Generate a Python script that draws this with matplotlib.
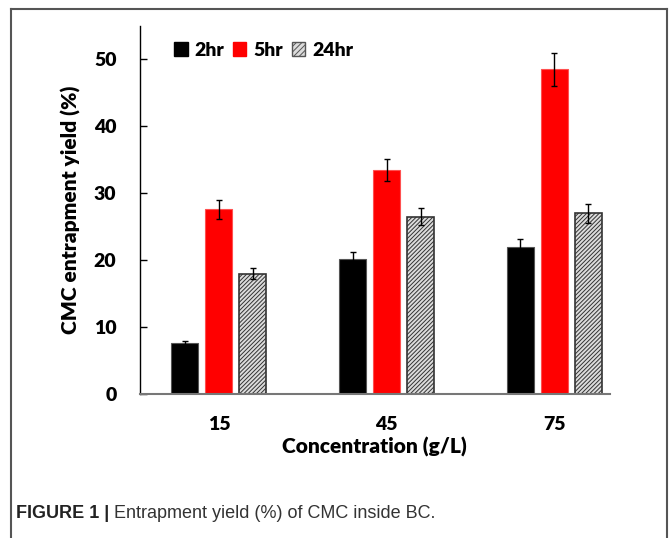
import numpy as np
import matplotlib.pyplot as plt
from matplotlib.patches import Patch
from matplotlib.lines import Line2D

# dados
concentracoes = ['15', '45', '75']
series = ['2hr', '5hr', '24hr']
y_2hr = [7.6, 20.2, 21.9]
y_5hr = [27.6, 33.5, 48.5]
y_24hr = [18.0, 26.5, 27.0]
err_2hr = [0.3, 1.0, 1.2]
err_5hr = [1.4, 1.6, 2.5]
err_24hr = [0.8, 1.3, 1.4]

plt.rcParams['font.family'] = ['Lato', 'DejaVu Sans']
plt.rcParams['hatch.linewidth'] = 0.7

fig = plt.figure(figsize=(6.7, 5.38), dpi=100)
ax = fig.add_axes([0.209, 0.2677, 0.701, 0.684])

x = np.arange(len(concentracoes))
w = 0.161
step = 0.203
ek = dict(ecolor='black', elinewidth=1.0, capsize=2.5, capthick=1.0)

ax.bar(x - step, y_2hr, w, color='black', edgecolor='#555555', linewidth=0.8,
       yerr=err_2hr, error_kw=ek, label=series[0])
ax.bar(x, y_5hr, w, color='#ff0000', edgecolor='#ff5050', linewidth=0.8,
       yerr=err_5hr, error_kw=ek, label=series[1])
ax.bar(x + step, y_24hr, w, color='#dcdcdc', edgecolor='#333333', linewidth=1.2,
       hatch='////////', yerr=err_24hr, error_kw=ek, label=series[2])

ax.set_xlim(-0.47, 2.33)
ax.set_ylim(0, 55)
ax.set_yticks([0, 10, 20, 30, 40, 50])
ax.set_xticks(x)
ax.set_xticklabels(concentracoes)

for s in ['top', 'right']:
    ax.spines[s].set_visible(False)
ax.spines['left'].set_color('black')
ax.spines['left'].set_linewidth(1.0)
ax.spines['bottom'].set_color('#777777')
ax.spines['bottom'].set_linewidth(1.5)

ax.tick_params(axis='y', direction='in', length=5, width=1, pad=17,
               labelsize=14)
ax.tick_params(axis='x', length=0, pad=16, labelsize=14)
for lb in ax.get_xticklabels() + ax.get_yticklabels():
    lb.set_fontweight('heavy')

ax.set_ylabel('CMC entrapment yield (%)', fontsize=15, fontweight='heavy',
              labelpad=9)
ax.set_xlabel('Concentration (g/L)', fontsize=15, fontweight='heavy',
              labelpad=3)

handles = [Patch(facecolor='black', edgecolor='black'),
           Patch(facecolor='#ff0000', edgecolor='#ff0000'),
           Patch(facecolor='#dcdcdc', edgecolor='#555555', hatch='//////')]
leg = ax.legend(handles, series, ncol=3, frameon=False, loc='upper left',
                bbox_to_anchor=(0.035, 1.005), handlelength=0.7,
                handleheight=0.7, handletextpad=0.35, columnspacing=0.45,
                prop={'weight': 'heavy', 'size': 14})

# moldura da figura
cor = '#555555'
fig.add_artist(Line2D([11/670, 11/670], [0, 1 - 9/538], color=cor, lw=1.5))
fig.add_artist(Line2D([11/670, 667/670], [1 - 9/538, 1 - 9/538], color=cor, lw=1.5))
fig.add_artist(Line2D([667/670, 667/670], [0, 1 - 9/538], color=cor, lw=1.5))

# legenda da figura
fam = ['Liberation Sans Narrow', 'Liberation Sans']
t1 = fig.text(16/670, 1 - 514/538, 'FIGURE 1 | ', fontsize=13,
              fontweight='bold', family=fam, color='#222222', va='center')
fig.canvas.draw()
bb = t1.get_window_extent()
fig.text(bb.x1 / 670, 1 - 514/538, 'Entrapment yield (%) of CMC inside BC.',
         fontsize=13, family=fam, color='#333333', va='center')

fig.savefig('out.png', dpi=100)
